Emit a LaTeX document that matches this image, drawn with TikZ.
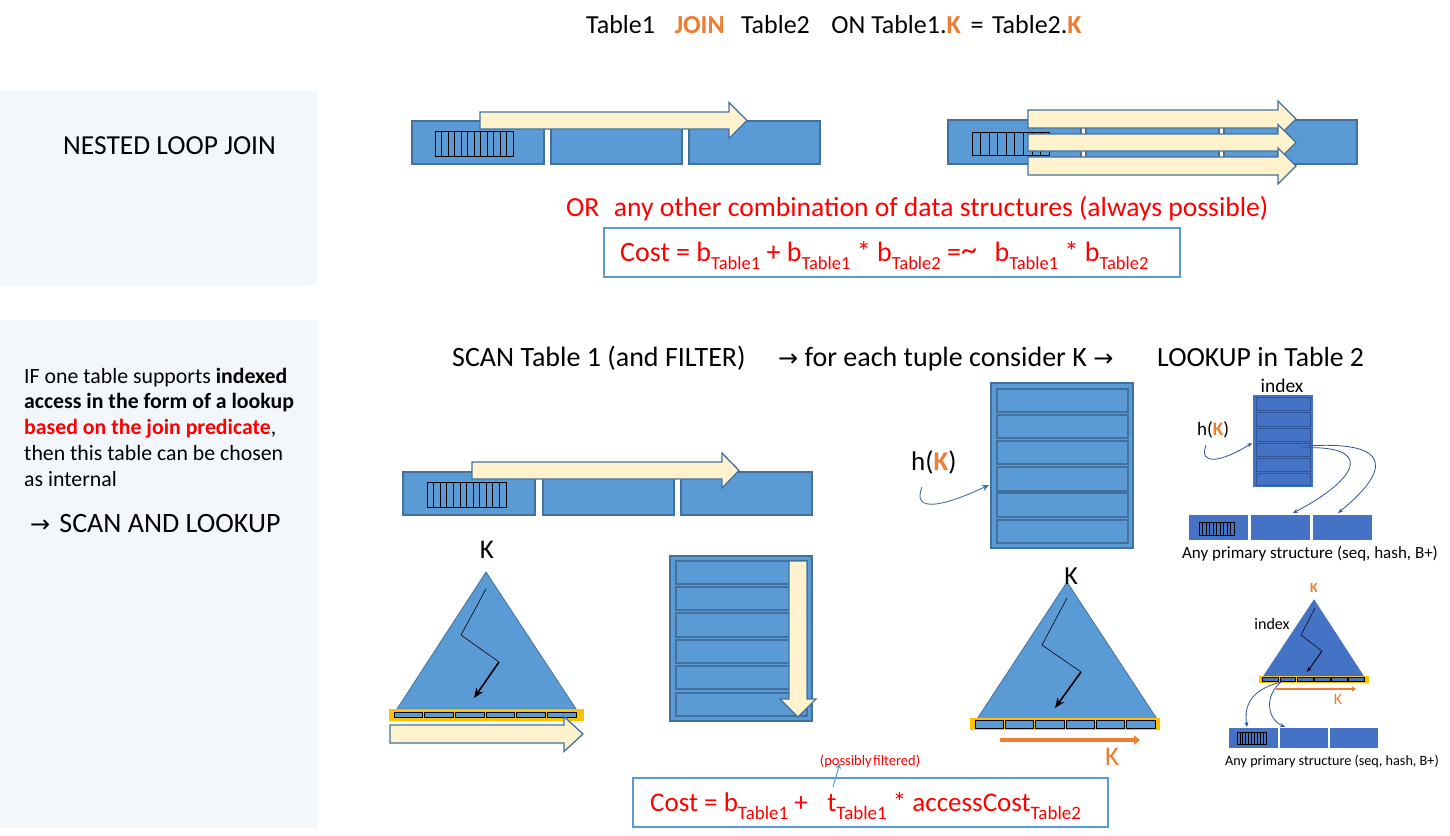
\documentclass[tikz,border=0pt]{standalone}
\usepackage{fontspec}
\setmainfont{Carlito}
\newfontfamily\djv{DejaVu Sans}
\usetikzlibrary{arrows.meta}
\definecolor{blk}{HTML}{5B9BD5}
\definecolor{blkb}{HTML}{41719C}
\definecolor{arrf}{HTML}{FFF2CC}
\definecolor{org}{HTML}{ED7D31}
\definecolor{ylw}{HTML}{FFC000}
\definecolor{dblk}{HTML}{4472C4}
\definecolor{dblkb}{HTML}{2F5597}
\definecolor{panel}{HTML}{F3F7FC}
\definecolor{redt}{HTML}{FF0000}
\newcommand\fs[1]{\fontsize{#1}{#1}\selectfont}
\newcommand\sbt[1]{\raisebox{-0.3em}{\fontsize{18.5}{18.5}\selectfont #1}}
\newcommand\sbtb[1]{\raisebox{-0.3em}{\fontsize{19}{19}\selectfont #1}}
\tikzset{
  blockbox/.style={fill=blk, draw=blkb, line width=1.3pt},
  dblockbox/.style={fill=dblk, draw=white, line width=0.8pt},
  arrowshape/.style={fill=arrf, draw=blkb, line width=1.3pt, line join=miter},
  stripbox/.style={draw=black, line width=0.8pt},
  tri/.style={fill=blk, draw=blkb, line width=0.8pt},
  dtri/.style={fill=dblk, draw=dblk, line width=0.8pt},
  leaf/.style={fill=blk, draw=black, line width=0.7pt},
  txt/.style={inner sep=0pt, anchor=base west},
  ctxt/.style={inner sep=0pt, anchor=base},
  costbox/.style={draw=blk, line width=1.3pt},
  curvy/.style={draw=blkb, line width=0.9pt, -{Stealth[length=7pt,width=6pt]}},
  dcurvy/.style={draw=dblkb, line width=0.8pt, -{Stealth[length=5pt,width=4pt]}},
  zig/.style={draw=black, line width=0.6pt},
  zigend/.style={draw=black, line width=1.6pt, -{Stealth[length=10pt,width=8pt]}},
  orgarrow/.style={draw=org, line width=3.5pt, -{Triangle[length=6pt,width=9pt]}},
}
% right block arrow: x0, yc, xhead, xtip, halfbody, halfhead
\newcommand\rarrow[6]{\draw[arrowshape] (#1,#2-#5) -- (#3,#2-#5) -- (#3,#2-#6) -- (#4,#2) -- (#3,#2+#6) -- (#3,#2+#5) -- (#1,#2+#5) -- cycle;}
% strip of records: x0 y0 x1 y1 n
\newcommand\recstrip[5]{\draw[stripbox] (#1,#2) rectangle (#3,#4);
  \foreach \i in {1,...,#5}{\draw[stripbox] ({#1+(#3-#1)*\i/#5},#2) -- ({#1+(#3-#1)*\i/#5},#4);}}
% leaf bar
\newcommand\leafbar[8]{\fill[ylw] (#1,#2) rectangle (#3,#4);
  \foreach \i in {0,...,5}{\draw[leaf] ({#5+(#7-#5)*\i/6+1},#6) rectangle ({#5+(#7-#5)*(\i+1)/6-1},#8);}}
\begin{document}
\begin{tikzpicture}[x=1pt,y=-1pt]
\useasboundingbox (0,0) rectangle (1450,835);
\fill[white] (0,0) rectangle (1450,835);
% panels
\fill[panel] (0,90) rectangle (317,285);
\fill[panel] (0,320) rectangle (318,828);

% title
\node[txt] (title) at (586,33) {\fs{26}Table1\hspace{0.75em}{\color{org}\bfseries JOIN}\hspace{0.4em} Table2\hspace{0.6em} ON Table1.{\color{org}\bfseries K}\hspace{0.15em} = \hspace{0.1em}Table2.{\color{org}\bfseries K}};

\node[txt] (nlj) at (63,154) {\fs{27.5}NESTED LOOP JOIN};

% top-left nested loop
\draw[blockbox] (412,121) rectangle (544,164);
\draw[blockbox] (551,121) rectangle (682,164);
\draw[blockbox] (689,121) rectangle (820,164);
\recstrip{435}{131}{513}{156}{12}
\rarrow{480}{120.5}{729}{747}{8.5}{18}

% top-right nested loop
\draw[blockbox] (948,120) rectangle (1081,164);
\draw[blockbox] (1086,120) rectangle (1219,164);
\draw[blockbox] (1224,120) rectangle (1357,164);
\recstrip{972}{132}{1049}{155}{9}
\rarrow{1028}{119}{1278}{1296}{9}{18}
\rarrow{1028}{142.5}{1278}{1296}{8.5}{18}
\rarrow{1028}{166}{1278}{1296}{9}{18}

% OR line
\node[txt] (orl) at (566,216) {\fs{27.6}\color{redt}OR\hspace{0.3em} any other combination of data structures (always possible)};
\draw[costbox] (604,228) rectangle (1180,277);
\node[txt] (cost1) at (620,261) {\fs{28}\color{redt}Cost = b\sbt{Table1} + b\sbt{Table1} * b\sbt{Table2} =\raisebox{0.02em}{\fs{32}\textasciitilde}\hspace{0.4em} b\sbt{Table1} * b\sbt{Table2}};

% left text
\node[txt] (l1) at (24,383) {\fs{21.8}IF one table supports \textbf{indexed}};
\node[txt] (l2) at (24,408.5) {\fs{21.8}\textbf{access in the form of a lookup}};
\node[txt] (l3) at (24,434.5) {\fs{21.8}{\color{redt}\bfseries based on the join predicate},};
\node[txt] (l4) at (24,460.5) {\fs{21.8}then this table can be chosen};
\node[txt] (l5) at (24,486.5) {\fs{21.8}as internal};
\node[txt] (l6) at (30,532) {\fs{28}{\djv\fs{24}→}\hspace{0.1em} SCAN AND LOOKUP};

% header row
\node[txt] (h1) at (452,366) {\fs{28}SCAN Table 1 (and FILTER)};
\node[txt] (h2) at (778,366) {\fs{28}{\djv\fs{24}→} for each tuple consider K {\djv\fs{24}→}};
\node[txt] (h3) at (1157,366) {\fs{27.7}LOOKUP in Table 2};

% mid scan blocks
\draw[blockbox] (403,472) rectangle (535,515);
\draw[blockbox] (543,472) rectangle (674,515);
\draw[blockbox] (681,472) rectangle (812,515);
\recstrip{427}{482}{506}{507}{12}
\rarrow{472}{470.5}{722}{739}{8.5}{17.5}

% left B+ triangle
\node[ctxt] (k1) at (487,558) {\fs{27}K};
\draw[tri] (486,572) -- (397,709) -- (576,709) -- cycle;
\leafbar{389}{709}{584}{721}{393}{712}{577}{717}
\draw[zig] (486,589) -- (461,635) -- (499,662);
\draw[zigend] (499,662) -- (474,698);
\rarrow{390}{734}{564}{583}{9}{17.5}

% middle sequential stack
\draw[blockbox, line width=2pt] (670,556) rectangle (812,721);
\foreach \a/\b in {561/584,587/610,613/637,640/663,666/689,693/716}{\draw[blockbox, line width=1.5pt] (676,\a) rectangle (807,\b);}
\draw[arrowshape] (789,561) -- (807,561) -- (807,699) -- (816,699) -- (798,717) -- (780,699) -- (789,699) -- cycle;

% hash stack
\draw[blockbox, line width=2pt] (991,383) rectangle (1133,548);
\foreach \a/\b in {389/412,415/438,441/464,467/491,493/517,520/543}{\draw[blockbox, line width=1.5pt] (997,\a) rectangle (1128,\b);}
\node[txt] (hk) at (911,470) {\fs{27}h({\color{org}\bfseries K})};
\coordinate (hks) at (922,487);
\coordinate (hke) at (989,485);
\draw[curvy] (hks) .. controls (912,512) and (940,508) .. (hke);

% middle B+ triangle
\draw[tri] (1067,582) -- (977,719) -- (1157,719) -- cycle;
\node[ctxt] (k2) at (1071,584) {\fs{26}K};
\leafbar{970}{718}{1160}{730}{974}{720}{1156}{728}
\draw[zig] (1067,598) -- (1042,645) -- (1081,672);
\draw[zigend] (1081,672) -- (1055,708);
\coordinate (oa1) at (1000,740);
\coordinate (oa2) at (1140,740);
\draw[orgarrow] (oa1) -- (oa2);
\node[ctxt] (k3) at (1112,765) {\fs{27}\color{org}K};

% right top: hash index
\node[ctxt] (idx1) at (1282,392) {\fs{19.5}index};
\fill[dblk] (1253,395) rectangle (1313,487);
\foreach \a/\b in {397/410,412/426,428/441,443/456,458/471,473/485}{\draw[fill=dblk, draw=dblkb, line width=0.9pt] (1256,\a) rectangle (1310,\b);}
\node[txt] (hk2) at (1197,435) {\fs{19}h({\color{org}\bfseries K})};
\coordinate (hs2) at (1206,445);
\coordinate (he2) at (1252,443);
\draw[dcurvy] (hs2) .. controls (1198,466) and (1222,462) .. (he2);
\draw[dblockbox] (1188,514) rectangle (1248,540);
\draw[dblockbox] (1250,514) rectangle (1310,540);
\draw[dblockbox] (1312,514) rectangle (1372,540);
\recstrip{1199}{522}{1234}{535}{10}
\coordinate (ps1) at (1300,448);
\coordinate (ps2) at (1307,446);
\coordinate (pe1) at (1293,513);
\coordinate (pe2) at (1338,513);
\draw[dcurvy] (ps1) .. controls (1375,444) and (1360,478) .. (pe1);
\draw[dcurvy] (ps2) .. controls (1400,440) and (1385,475) .. (pe2);
\node[ctxt] (aps1) at (1310,558) {\fs{17}Any primary structure (seq, hash, B+)};

% right bottom: B+ index
\node[ctxt] (k4) at (1314,592) {\fs{14}\color{org}\bfseries K};
\draw[dtri] (1314,600) -- (1263,677) -- (1364,677) -- cycle;
\node[ctxt] (idx2) at (1272,629) {\fs{16}index};
\fill[ylw] (1259,676) rectangle (1369,683);
\foreach \i in {0,...,5}{\draw[fill=dblk, draw=black, line width=0.5pt] ({1262+17.2*\i+0.7},677.5) rectangle ({1262+17.2*(\i+1)-0.7},681.5);}
\draw[draw=black, line width=0.5pt] (1315,608) -- (1301,635) -- (1322,651);
\draw[draw=black, line width=0.9pt, -{Stealth[length=5pt,width=4pt]}] (1322,651) -- (1307,672);
\coordinate (ob1) at (1276,689);
\coordinate (ob2) at (1356,689);
\draw[draw=org, line width=2pt, -{Triangle[length=4pt,width=5pt]}] (ob1) -- (ob2);
\node[ctxt] (k5) at (1338,704) {\fs{16}\color{org}K};
\draw[dblockbox] (1228,727) rectangle (1278,748);
\draw[dblockbox] (1279,727) rectangle (1328,748);
\draw[dblockbox] (1329,727) rectangle (1378,748);
\recstrip{1237}{732}{1266}{744}{10}
\coordinate (qs) at (1281,682);
\coordinate (qe1) at (1247,727);
\coordinate (qe2) at (1285,727);
\draw[dcurvy] (qs) .. controls (1250,690) and (1244,706) .. (qe1);
\draw[dcurvy] (qs) .. controls (1265,695) and (1266,718) .. (qe2);
\node[ctxt] (aps2) at (1332,765) {\fs{14.2}Any primary structure (seq, hash, B+)};

% bottom cost
\node[ctxt] (pf) at (870,765) {\fs{14.5}\color{redt}(possibly\hspace{0.1em}filtered)};
\draw[costbox] (633,778) rectangle (1108,827);
\node[txt] (cost2) at (650,811) {\fs{27}\color{redt}Cost = b\sbtb{Table1} +\hspace{0.5em} t\sbtb{Table1} * accessCost\sbtb{Table2}};
\coordinate (pa1) at (833,787);
\coordinate (pa2) at (840,763);
\draw[draw=blk, line width=1pt, -{Stealth[length=6pt,width=5pt]}] (pa1) -- (pa2);
\end{tikzpicture}
\end{document}
